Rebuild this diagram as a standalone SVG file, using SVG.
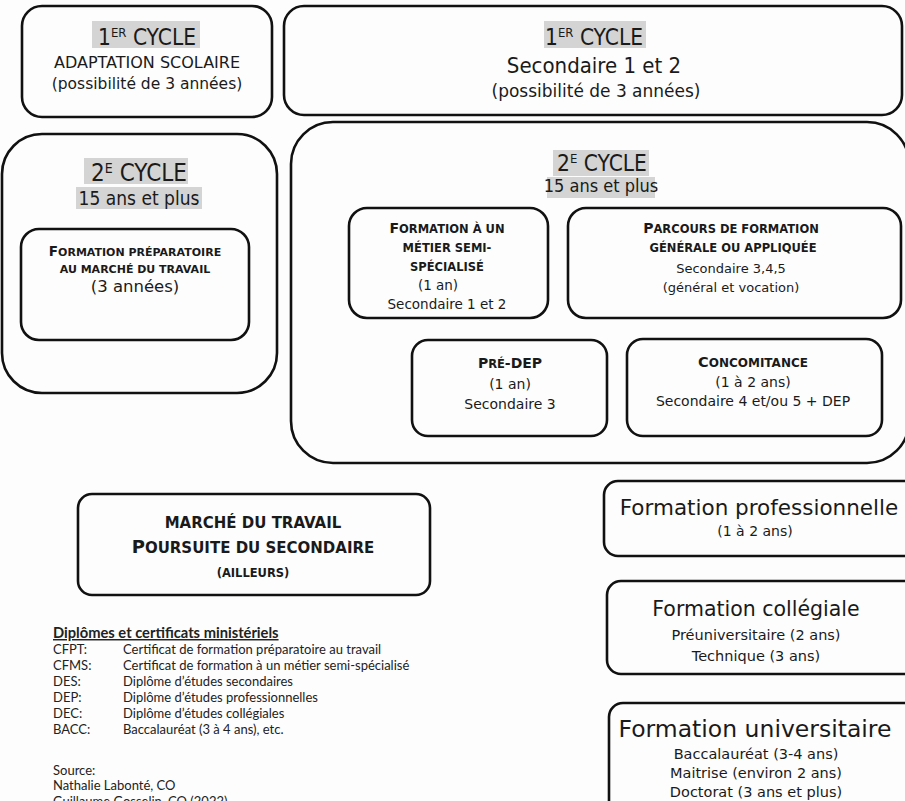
<svg xmlns="http://www.w3.org/2000/svg" width="905" height="801" viewBox="0 0 905 801">
<style>
.box{fill:none;stroke:#111;stroke-width:2.6}
.t{font-family:"DejaVu Sans","Noto Sans",sans-serif;fill:#1a1a1a;text-anchor:middle}
.c{font-stretch:condensed}
.b{font-weight:bold}
.hl{fill:#d4d4d4}
.lg{font-family:Lato,"Liberation Sans",sans-serif;fill:#222;font-size:13px}
.lgh{font-family:Lato,"Liberation Sans",sans-serif;fill:#222;font-size:14.7px;font-weight:bold;text-decoration:underline}
</style>
<rect width="905" height="801" fill="#fdfdfd"/>
<g id="connectors"></g>

<g id="cycle1-adaptation">
<rect class="box" x="22" y="6" width="250" height="111" rx="20"/>
<rect class="hl" x="92" y="21" width="108" height="27"/>
<text class="t c" x="147" y="45" font-size="22.5">1<tspan font-size="13" dy="-8">ER</tspan><tspan dy="8"> CYCLE</tspan></text>
<text class="t" x="147" y="68" font-size="16">ADAPTATION SCOLAIRE</text>
<text class="t" x="147" y="89" font-size="15.5">(possibilité de 3 années)</text>
</g>

<g id="cycle1-secondaire">
<rect class="box" x="284" y="6" width="618" height="109" rx="20"/>
<rect class="hl" x="544" y="21" width="102" height="27"/>
<text class="t c" x="594" y="45" font-size="22.5">1<tspan font-size="13" dy="-8">ER</tspan><tspan dy="8"> CYCLE</tspan></text>
<text class="t c" x="594" y="73" font-size="22">Secondaire 1 et 2</text>
<text class="t" x="596" y="97" font-size="17">(possibilité de 3 années)</text>
</g>

<g id="cycle2-left">
<rect class="box" x="2" y="134" width="275" height="259" rx="40"/>
<rect class="hl" x="84" y="158" width="104" height="26"/>
<rect class="hl" x="76" y="187" width="126" height="22"/>
<text class="t c" x="139" y="181" font-size="24">2<tspan font-size="14" dy="-8">E</tspan><tspan dy="8"> CYCLE</tspan></text>
<text class="t c" x="139" y="205" font-size="19">15 ans et plus</text>
</g>

<g id="formation-preparatoire">
<rect class="box" x="21" y="229" width="228" height="111" rx="18"/>
<text class="t b" x="135" y="256" font-size="13.5">F<tspan font-size="11">ORMATION PRÉPARATOIRE</tspan></text>
<text class="t b" x="135" y="273" font-size="11">AU MARCHÉ DU TRAVAIL</text>
<text class="t" x="135" y="292" font-size="16.5">(3 années)</text>
</g>

<g id="cycle2-main">
<rect class="box" x="291" y="122" width="618" height="341" rx="42"/>
<rect class="hl" x="553" y="150" width="96" height="26"/>
<rect class="hl" x="547" y="177" width="108" height="21"/>
<text class="t c" x="602" y="171" font-size="22.5">2<tspan font-size="13" dy="-8">E</tspan><tspan dy="8"> CYCLE</tspan></text>
<text class="t c" x="601" y="192" font-size="18">15 ans et plus</text>
</g>

<g id="formation-metier">
<rect class="box" x="349" y="208" width="199" height="110" rx="18"/>
<text class="t b" x="447" y="233" font-size="14">F<tspan font-size="11.5">ORMATION À UN</tspan></text>
<text class="t b" x="447" y="252" font-size="11.5">MÉTIER SEMI-</text>
<text class="t b" x="447" y="271" font-size="11.5">SPÉCIALISÉ</text>
<text class="t" x="438" y="290" font-size="13.5">(1 an)</text>
<text class="t" x="447" y="309" font-size="13.5">Secondaire 1 et 2</text>
</g>

<g id="parcours">
<rect class="box" x="568" y="208" width="333" height="110" rx="18"/>
<text class="t b" x="731" y="233" font-size="14">P<tspan font-size="11.5">ARCOURS DE FORMATION</tspan></text>
<text class="t b" x="733" y="252" font-size="11.5">GÉNÉRALE OU APPLIQUÉE</text>
<text class="t" x="731" y="273" font-size="13">Secondaire 3,4,5</text>
<text class="t" x="731" y="292" font-size="13">(général et vocation)</text>
</g>

<g id="pre-dep">
<rect class="box" x="412" y="340" width="195" height="96" rx="16"/>
<text class="t b" x="510" y="368" font-size="14">P<tspan font-size="11.5">RÉ</tspan>-DEP</text>
<text class="t" x="510" y="389" font-size="14">(1 an)</text>
<text class="t" x="510" y="409" font-size="14">Secondaire 3</text>
</g>

<g id="concomitance">
<rect class="box" x="627" y="339" width="255" height="97" rx="16"/>
<text class="t b" x="753" y="367" font-size="14.5">C<tspan font-size="12">ONCOMITANCE</tspan></text>
<text class="t" x="753" y="387" font-size="14">(1 à 2 ans)</text>
<text class="t" x="753" y="406" font-size="14">Secondaire 4 et/ou 5 + DEP</text>
</g>

<g id="marche-travail">
<rect class="box" x="78" y="494" width="352" height="101" rx="14"/>
<text class="t b" x="253" y="528" font-size="15">MARCHÉ DU TRAVAIL</text>
<text class="t b" x="253" y="553" font-size="18">P<tspan font-size="15">OURSUITE DU SECONDAIRE</tspan></text>
<text class="t b" x="253" y="577" font-size="11.5">(AILLEURS)</text>
</g>

<g id="formation-professionnelle">
<rect class="box" x="604" y="481" width="330" height="75" rx="14"/>
<text class="t" x="759" y="515" font-size="21.5">Formation professionnelle</text>
<text class="t" x="755" y="536" font-size="14">(1 à 2 ans)</text>
</g>

<g id="formation-collegiale">
<rect class="box" x="607" y="581" width="330" height="93" rx="14"/>
<text class="t" x="756" y="616" font-size="20.5">Formation collégiale</text>
<text class="t" x="756" y="640" font-size="14.5">Préuniversitaire (2 ans)</text>
<text class="t" x="756" y="661" font-size="14.5">Technique (3 ans)</text>
</g>

<g id="formation-universitaire">
<rect class="box" x="609" y="703" width="330" height="130" rx="14"/>
<text class="t" x="755" y="737" font-size="23.5">Formation universitaire</text>
<text class="t" x="756" y="759" font-size="14.5">Baccalauréat (3-4 ans)</text>
<text class="t" x="756" y="778" font-size="14.5">Maitrise (environ 2 ans)</text>
<text class="t" x="756" y="797" font-size="14.5">Doctorat (3 ans et plus)</text>
</g>

<g id="legend">
<text class="lgh" x="53" y="638">Diplômes et certificats ministériels</text>
<text class="lg" x="53" y="654">CFPT:</text><text class="lg" x="123" y="654">Certificat de formation préparatoire au travail</text>
<text class="lg" x="53" y="670">CFMS:</text><text class="lg" x="123" y="670">Certificat de formation à un métier semi-spécialisé</text>
<text class="lg" x="53" y="686">DES:</text><text class="lg" x="123" y="686">Diplôme d’études secondaires</text>
<text class="lg" x="53" y="702">DEP:</text><text class="lg" x="123" y="702">Diplôme d’études professionnelles</text>
<text class="lg" x="53" y="718">DEC:</text><text class="lg" x="123" y="718">Diplôme d’études collégiales</text>
<text class="lg" x="53" y="734">BACC:</text><text class="lg" x="123" y="734">Baccalauréat (3 à 4 ans), etc.</text>
<text class="lg" x="53" y="775">Source:</text>
<text class="lg" x="53" y="790">Nathalie Labonté, CO</text>
<text class="lg" x="53" y="806">Guillaume Gosselin, CO (2022)</text>
</g>
</svg>
